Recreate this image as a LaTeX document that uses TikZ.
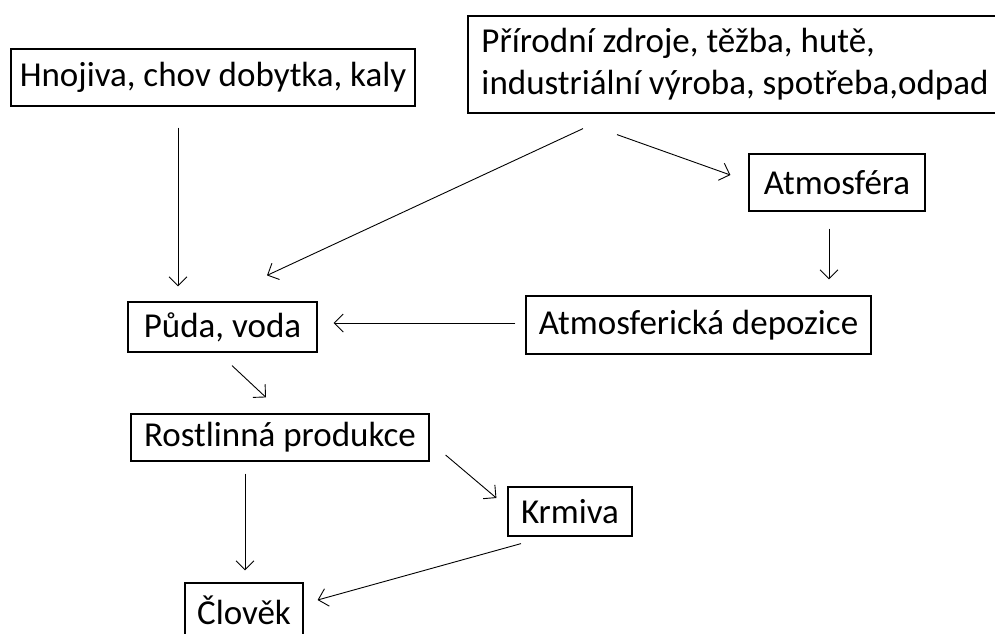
\documentclass[tikz,border=0pt]{standalone}
\usepackage{fontspec}
\setmainfont{Carlito}
\usetikzlibrary{arrows.meta}

\begin{document}
\begin{tikzpicture}[x=1pt,y=-1pt,
					>={Straight Barb[length=9pt,width=18pt]},
					line width=0.9pt,
					font=\fontsize{35}{42}\selectfont,
					box node/.style={draw,line width=1.2pt,inner sep=0pt,
					                 minimum width=#1},
					box node/.default=100pt]

  \useasboundingbox (0,0) rectangle (995,633);

  \node[box node=404pt,minimum height=57pt] (hnoj) at (213,77.5) {Hnojiva, chov dobytka, kaly};
  \node[box node=534pt,minimum height=97pt,align=left] (zdroje) at (735,64.5)
    {Přírodní zdroje, těžba, hutě,\\industriální výroba, spotřeba,odpad};
  \node[box node=176pt,minimum height=57pt] (atm) at (837,182.5) {Atmosféra};
  \node[box node=345pt,minimum height=58pt] (dep) at (698.5,325) {Atmosferická depozice};
  \node[box node=189pt,minimum height=50pt] (puda) at (222.5,327) {Půda, voda};
  \node[box node=298pt,minimum height=47pt] (rost) at (280,437.5) {Rostlinná produkce};
  \node[box node=124pt,minimum height=49pt] (krm) at (570,511.5) {Krmiva};
  \node[box node=118pt,minimum height=55pt] (clov) at (244,610.5) {Člověk};

  \path[->]
    ([xshift=-35pt,yshift=-21pt]hnoj.south) edge ([xshift=-44.5pt,yshift=15pt]puda.north)
    ([xshift=-152pt,yshift=-15pt]zdroje.south) edge ([xshift=44.5pt,yshift=26pt]puda.north)
    ([xshift=-118pt,yshift=-21pt]zdroje.south) edge ([xshift=-18pt,yshift=7.5pt]atm.west)
    ([xshift=-8pt,yshift=-17pt]atm.south) edge ([xshift=130.5pt,yshift=16pt]dep.north)
    ([xshift=-10pt,yshift=2pt]dep.west) edge ([xshift=16pt,yshift=4pt]puda.east)
    ([xshift=9.5pt,yshift=-13pt]puda.south) edge ([xshift=-14pt,yshift=16pt]rost.north)
    ([xshift=16pt,yshift=-17.5pt]rost.east) edge ([xshift=-11pt,yshift=13.5pt]krm.west)
    ([xshift=-35pt,yshift=-12pt]rost.south) edge ([xshift=1pt,yshift=12pt]clov.north)
    ([xshift=-49pt,yshift=-7pt]krm.south) edge ([xshift=14pt,yshift=10.5pt]clov.east);
\end{tikzpicture}
\end{document}
